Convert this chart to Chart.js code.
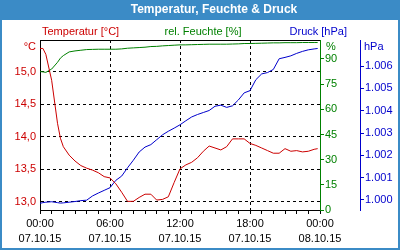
<!DOCTYPE html>
<html>
<head>
<meta charset="utf-8">
<script src="https://cdn.jsdelivr.net/npm/chart.js@4"></script>
<style>
  html, body { margin: 0; padding: 0; background: #fff; }
</style>
</head>
<body>
<canvas id="weatherChart" width="400" height="250"></canvas>
<script>
// readings roughly every half hour, 07.10.15 00:00 -> 08.10.15 00:00
const hours = [
  0, 0.25, 0.5, 1, 1.5, 1.75, 2, 2.5, 3, 3.5, 4, 4.5, 5, 5.5, 6, 6.5, 7, 7.5,
  8, 8.5, 9, 9.5, 10, 10.5, 11, 11.5, 12, 12.5, 13, 13.5, 14, 14.5, 15, 15.5,
  16, 16.5, 17, 17.5, 18, 18.5, 19, 19.5, 20, 20.5, 21, 21.5, 22, 22.5, 23, 23.5, 23.8
];
const temperature = [
  15.36, 15.36, 15.27, 14.87, 14.21, 13.98, 13.85, 13.72, 13.63, 13.56, 13.52, 13.49, 13.45, 13.39, 13.37, 13.28, 13.15, 13.01,
  13.01, 13.07, 13.12, 13.12, 13.03, 13.04, 13.08, 13.30, 13.51, 13.57, 13.61, 13.68, 13.78, 13.86, 13.83, 13.80,
  13.85, 13.97, 13.97, 13.97, 13.90, 13.87, 13.83, 13.79, 13.75, 13.75, 13.82, 13.78, 13.79, 13.77, 13.78, 13.81, 13.82
];
const humidity = [
  82.5, 82.3, 82.0, 84.0, 88.0, 90.5, 92.0, 94.2, 94.8, 95.2, 95.6, 95.7, 95.8, 95.8, 95.8, 95.8, 96.0, 96.4,
  96.6, 96.8, 97.0, 97.4, 97.5, 97.8, 98.0, 98.2, 98.4, 98.4, 98.5, 98.6, 98.7, 98.8, 98.8, 98.8,
  98.8, 98.9, 99.0, 99.2, 99.2, 99.3, 99.4, 99.5, 99.6, 99.6, 99.7, 99.7, 99.7, 99.8, 99.8, 99.8, 99.8
];
const pressure = [
  0.99985, 0.99988, 0.99990, 0.99992, 0.99988, 0.99986, 0.99987, 0.99990, 0.99993, 0.99997, 0.99999, 1.00018, 1.00031, 1.00043, 1.00055, 1.00088, 1.00107, 1.00144,
  1.00178, 1.00215, 1.00237, 1.00248, 1.00270, 1.00292, 1.00308, 1.00322, 1.00337, 1.00355, 1.00372, 1.00383, 1.00392, 1.00401, 1.00420, 1.00425,
  1.00415, 1.00422, 1.00448, 1.00480, 1.00490, 1.00539, 1.00565, 1.00571, 1.00585, 1.00633, 1.00639, 1.00646, 1.00657, 1.00666, 1.00673, 1.00677, 1.00679
];

const xTickHours = [0, 6, 12, 18, 24];
const xTickTimes = ["00:00", "06:00", "12:00", "18:00", "00:00"];
const xTickDates = ["07.10.15", "07.10.15", "07.10.15", "07.10.15", "08.10.15"];
const tempTicks = [13.0, 13.5, 14.0, 14.5, 15.0];
const humTicks = [0, 15, 30, 45, 60, 75, 90];
const pressTicks = [1.000, 1.001, 1.002, 1.003, 1.004, 1.005, 1.006];

const FONT = "'Liberation Sans', Arial, sans-serif";
const FRAME_BLUE = "#3b8bc6";
const RED = "#cc0000";
const GREEN = "#008000";
const BLUE = "#0000cc";

function toPoints(values) {
  return hours.map((h, i) => ({ x: h, y: values[i] }));
}

function fixedTicks(list) {
  return (axis) => {
    axis.ticks = list.map((v) => ({ value: v }));
  };
}

const decorPlugin = {
  id: "decor",
  beforeDraw(chart) {
    const { ctx, width, height } = chart;
    ctx.save();
    ctx.fillStyle = "#fff";
    ctx.fillRect(0, 0, width, height);
    ctx.fillStyle = FRAME_BLUE;
    ctx.fillRect(0, 0, width, 20);
    ctx.strokeStyle = FRAME_BLUE;
    ctx.lineWidth = 2;
    ctx.strokeRect(1, 1, width - 2, height - 2);
    ctx.fillStyle = "#fff";
    ctx.font = "bold 12px " + FONT;
    ctx.textAlign = "center";
    ctx.textBaseline = "middle";
    ctx.fillText("Temperatur, Feuchte & Druck", 214, 10);
    ctx.restore();
  },
  afterDraw(chart) {
    const { ctx, chartArea } = chart;
    const sT = chart.scales.yT, sH = chart.scales.yH, sP = chart.scales.yP;
    ctx.save();
    // top edge of the plot frame
    ctx.strokeStyle = "#000";
    ctx.lineWidth = 1;
    ctx.beginPath();
    ctx.moveTo(chartArea.left, chartArea.top + 0.5);
    ctx.lineTo(chartArea.right, chartArea.top + 0.5);
    ctx.stroke();

    ctx.font = "11px " + FONT;
    ctx.textBaseline = "middle";
    const headY = chartArea.top - 8;
    ctx.fillStyle = RED;
    ctx.textAlign = "left";
    ctx.fillText("Temperatur [°C]", chartArea.left + 2, headY);
    ctx.fillStyle = GREEN;
    ctx.textAlign = "center";
    ctx.fillText("rel. Feuchte [%]", (chartArea.left + chartArea.right) / 2 + 23, headY);
    ctx.fillStyle = BLUE;
    ctx.textAlign = "right";
    ctx.fillText("Druck [hPa]", sP.left - 13, headY);

    const unitY = chartArea.top + 7;
    ctx.fillStyle = RED;
    ctx.textAlign = "right";
    ctx.fillText("°C", sT.right - 4, unitY);
    ctx.fillStyle = GREEN;
    ctx.textAlign = "left";
    ctx.fillText("%", sH.left + 6, unitY);
    ctx.fillStyle = BLUE;
    ctx.fillText("hPa", sP.left + 4, unitY);
    ctx.restore();
  },
};

new Chart(document.getElementById("weatherChart"), {
  type: "line",
  data: {
    datasets: [
      {
        label: "Temperatur [°C]",
        data: toPoints(temperature),
        yAxisID: "yT",
        borderColor: RED,
      },
      {
        label: "rel. Feuchte [%]",
        data: toPoints(humidity),
        yAxisID: "yH",
        borderColor: GREEN,
      },
      {
        label: "Druck [hPa]",
        data: toPoints(pressure),
        yAxisID: "yP",
        borderColor: BLUE,
      },
    ],
  },
  options: {
    responsive: false,
    animation: false,
    devicePixelRatio: 1,
    layout: { padding: { top: 40, left: 2, right: 2, bottom: 2 } },
    elements: {
      line: { borderWidth: 1, tension: 0 },
      point: { radius: 0 },
    },
    plugins: {
      legend: { display: false },
      tooltip: { enabled: false },
    },
    scales: {
      x: {
        type: "linear",
        min: 0,
        max: 24,
        afterFit: (axis) => { axis.height = 38; },
        ticks: {
          stepSize: 1,
          autoSkip: false,
          maxRotation: 0,
          padding: 3,
          color: "#000",
          font: { family: FONT, size: 11, lineHeight: 1.35 },
          callback: (v) => {
            const i = xTickHours.indexOf(v);
            return i < 0 ? "" : [xTickTimes[i], xTickDates[i]];
          },
        },
        grid: {
          color: (c) => (c.tick && c.tick.value % 6 === 0 && c.tick.value > 0 && c.tick.value < 24 ? "#000" : "rgba(0,0,0,0)"),
          tickColor: "#000",
          tickLength: 4,
        },
        border: { color: "#000", dash: [3, 3] },
      },
      yT: {
        position: "left",
        min: 12.877,
        max: 15.49,
        afterBuildTicks: fixedTicks(tempTicks),
        afterFit: (axis) => { axis.width = 38; },
        ticks: {
          color: RED,
          padding: 4,
          font: { family: FONT, size: 11 },
          callback: (v) => v.toFixed(1).replace(".", ","),
        },
        grid: { color: "#000", drawTicks: false },
        border: { color: "#000", dash: [3, 3] },
      },
      yH: {
        position: "right",
        min: 0,
        max: 101.3,
        afterBuildTicks: fixedTicks(humTicks),
        afterFit: (axis) => { axis.width = 40; },
        ticks: {
          color: GREEN,
          padding: 1,
          font: { family: FONT, size: 11 },
        },
        grid: { drawOnChartArea: false, color: GREEN, tickLength: 4 },
        border: { color: GREEN },
      },
      yP: {
        position: "right",
        min: 0.99955,
        max: 1.00717,
        afterBuildTicks: fixedTicks(pressTicks),
        afterFit: (axis) => { axis.width = 38; },
        ticks: {
          color: BLUE,
          padding: 1,
          font: { family: FONT, size: 11 },
          callback: (v) => v.toFixed(3),
        },
        grid: { drawOnChartArea: false, color: BLUE, tickLength: 4 },
        border: { color: BLUE },
      },
    },
  },
  plugins: [decorPlugin],
});
</script>
</body>
</html>
